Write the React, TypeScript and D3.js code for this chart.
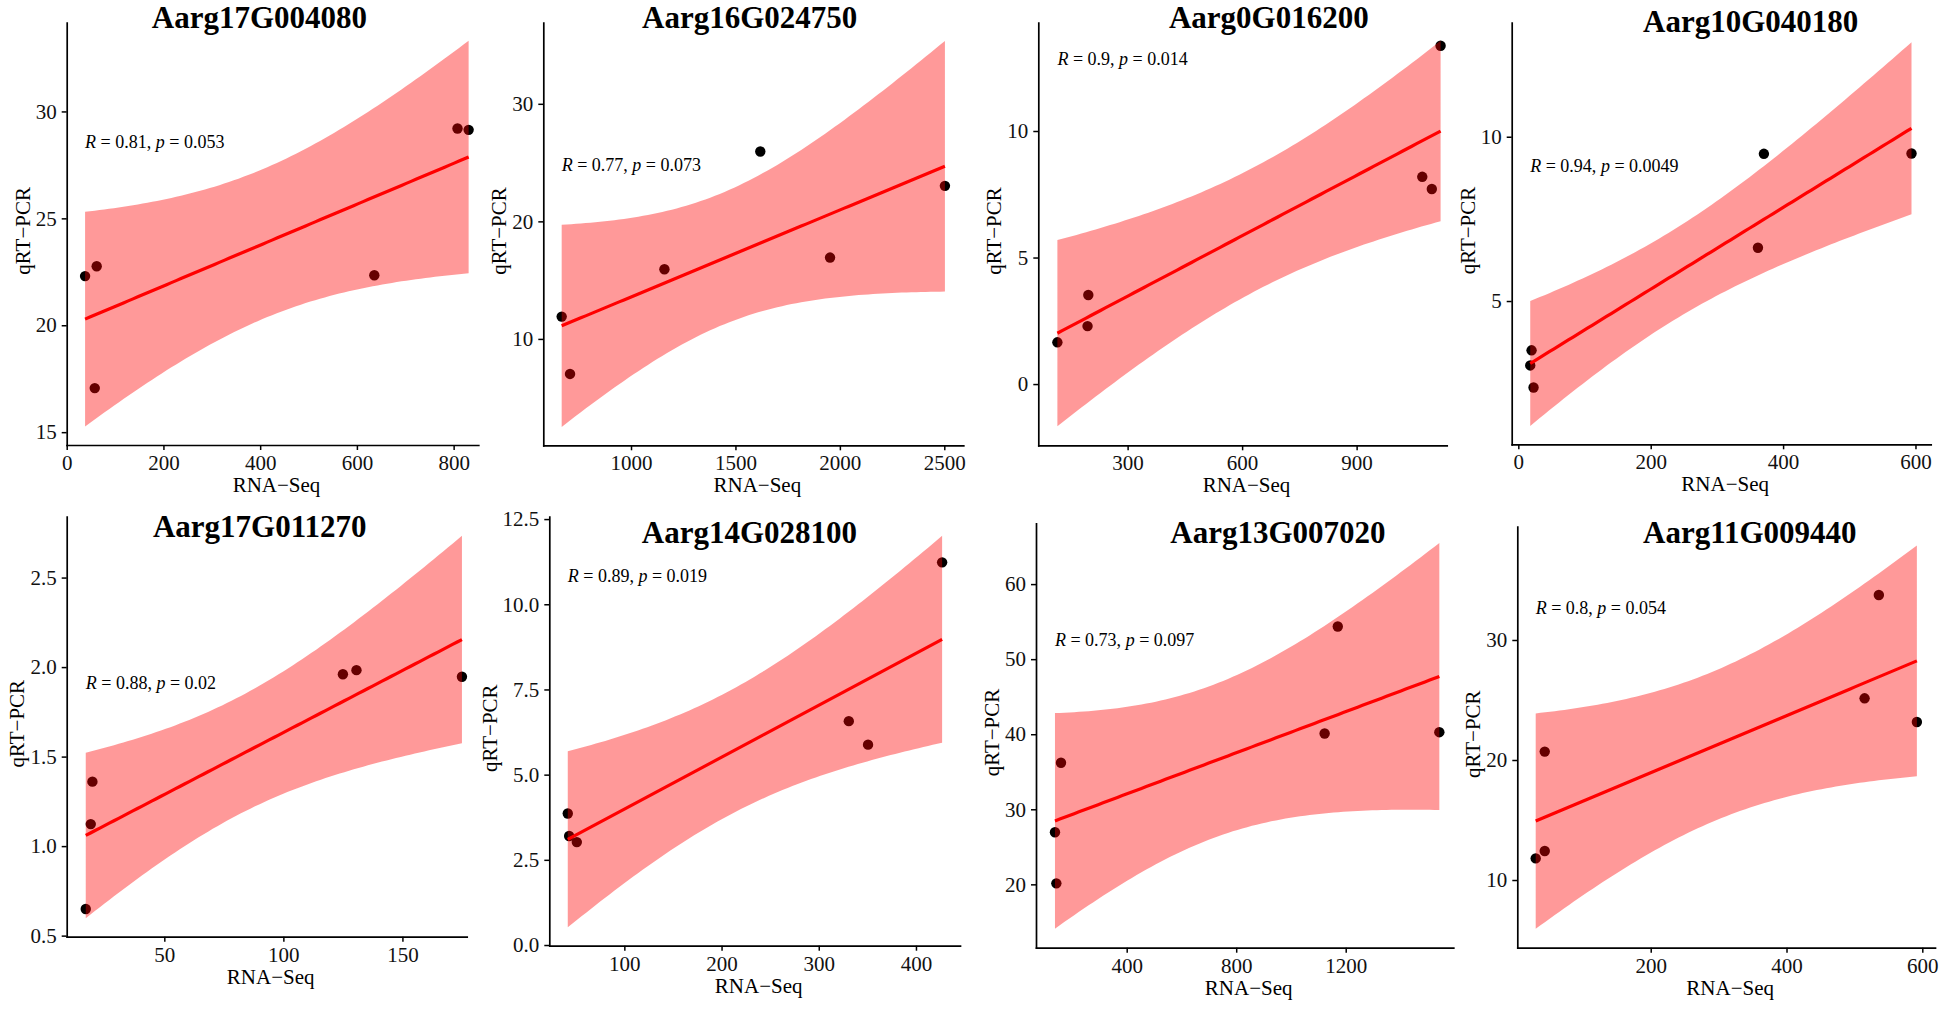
import { useEffect, useRef } from "react"
import * as d3 from "d3"

const W = 1949
const H = 1012

const genes = [
  "Aarg17G004080",
  "Aarg16G024750",
  "Aarg0G016200",
  "Aarg10G040180",
  "Aarg17G011270",
  "Aarg14G028100",
  "Aarg13G007020",
  "Aarg11G009440",
]

// RNA-Seq (x) per gene
const rnaSeq = [
  [38, 62, 58, 636, 808, 831],
  [668, 708, 1160, 1619, 1953, 2503],
  [116, 195, 197, 1072, 1097, 1120],
  [18, 20, 23, 362, 371, 594],
  [17.0, 19.1, 19.8, 125, 130.7, 175],
  [41.8, 43.2, 51.1, 330.9, 350.7, 426.9],
  [138, 143, 160, 1123, 1171, 1542],
  [30.6, 43.9, 43.9, 515, 536, 592],
]

// qRT-PCR (y) per gene
const qrtPcr = [
  [22.3, 22.76, 17.06, 22.34, 29.2, 29.14],
  [11.9, 7.02, 15.93, 25.94, 16.92, 23.02],
  [1.65, 2.29, 3.52, 8.19, 7.71, 13.37],
  [3.04, 3.5, 2.37, 6.62, 9.48, 9.49],
  [0.649, 1.123, 1.36, 1.96, 1.983, 1.946],
  [3.86, 3.2, 3.02, 6.57, 5.88, 11.23],
  [26.94, 20.13, 36.2, 40.1, 54.35, 40.27],
  [11.8, 12.42, 20.7, 25.14, 33.75, 23.17],
]

// correlation labels
const rLabels = ["0.81", "0.77", "0.9", "0.94", "0.88", "0.89", "0.73", "0.8"]
const pLabels = ["0.053", "0.073", "0.014", "0.0049", "0.02", "0.019", "0.097", "0.054"]
const labelY = [28.3, 24.3, 12.6, 8.94, 1.876, 10.66, 51.8, 32.2]

// axis ranges and ticks
const xDomains = [
  [0, 851], [580, 2591], [66, 1136], [-10, 623],
  [9, 177], [22.8, 445.3], [68.7, 1593], [3.5, 618.7],
]
const yDomains = [
  [14.4, 34.15], [0.95, 36.9], [-2.42, 14.28], [0.64, 13.47],
  [0.494, 2.84], [-0.02, 12.57], [11.56, 68.1], [4.36, 39.44],
]
const xTicks = [
  [0, 200, 400, 600, 800], [1000, 1500, 2000, 2500], [300, 600, 900], [0, 200, 400, 600],
  [50, 100, 150], [100, 200, 300, 400], [400, 800, 1200], [200, 400, 600],
]
const yTicks = [
  [15, 20, 25, 30], [10, 20, 30], [0, 5, 10], [5, 10],
  [0.5, 1.0, 1.5, 2.0, 2.5], [0, 2.5, 5, 7.5, 10, 12.5], [20, 30, 40, 50, 60], [10, 20, 30],
]
const yFormats = ["d", "d", "d", "d", ".1f", ".1f", "d", "d"]

// panel boxes in page pixels
const boxes = [
  { l: 66.7, r: 478.3, t: 22.7, b: 445 },
  { l: 543.3, r: 963.3, t: 22.7, b: 445.3 },
  { l: 1038.3, r: 1446.7, t: 22.7, b: 445.3 },
  { l: 1511.7, r: 1930.7, t: 22.7, b: 444.3 },
  { l: 66.7, r: 466.7, t: 516.7, b: 936.7 },
  { l: 549.3, r: 960, t: 516.7, b: 945.7 },
  { l: 1036, r: 1453.3, t: 523.3, b: 947.7 },
  { l: 1517.3, r: 1935, t: 526.7, b: 947.7 },
]
const titlePos = [
  [259.5, 28], [749.7, 28], [1268.8, 28], [1750.7, 31.7],
  [259.7, 536.7], [749.5, 543.3], [1278, 543.3], [1749.8, 543.3],
]

const T975 = 2.776445 // t quantile, 4 df

function fitLm(xs: number[], ys: number[]) {
  const n = xs.length
  const mx = d3.mean(xs) as number
  const my = d3.mean(ys) as number
  const sxx = d3.sum(xs, (x) => (x - mx) ** 2)
  const sxy = d3.sum(xs.map((x, i) => (x - mx) * (ys[i] - my)))
  const slope = sxy / sxx
  const icpt = my - slope * mx
  const sse = d3.sum(xs.map((x, i) => (ys[i] - icpt - slope * x) ** 2))
  const s = Math.sqrt(sse / (n - 2))
  return (x: number) => {
    const fit = icpt + slope * x
    const se = s * Math.sqrt(1 / n + (x - mx) ** 2 / sxx)
    return { fit, lo: fit - T975 * se, hi: fit + T975 * se }
  }
}

export default function App() {
  const svgRef = useRef<SVGSVGElement>(null)

  useEffect(() => {
    document.body.style.margin = "0"
    if (!svgRef.current) return
    const svg = d3.select(svgRef.current)
    svg.selectAll("*").remove()

    genes.forEach((gene, i) => {
      const box = boxes[i]
      const xs = rnaSeq[i]
      const ys = qrtPcr[i]
      const x = d3.scaleLinear().domain(xDomains[i]).range([box.l, box.r])
      const y = d3.scaleLinear().domain(yDomains[i]).range([box.b, box.t])
      const g = svg.append("g")

      // points (under the band, like ggplot)
      g.selectAll("circle")
        .data(xs)
        .enter()
        .append("circle")
        .attr("cx", (d) => x(d))
        .attr("cy", (_, j) => y(ys[j]))
        .attr("r", 5.2)
        .attr("fill", "#000")

      // lm fit + 95% CI
      const pred = fitLm(xs, ys)
      const [x0, x1] = d3.extent(xs) as [number, number]
      const grid = d3.range(81).map((k) => x0 + ((x1 - x0) * k) / 80)
      const rows = grid.map((gx) => ({ gx, ...pred(gx) }))

      g.append("path")
        .datum(rows)
        .attr("fill", "red")
        .attr("fill-opacity", 0.4)
        .attr(
          "d",
          d3
            .area<any>()
            .x((d) => x(d.gx))
            .y0((d) => y(d.lo))
            .y1((d) => y(d.hi))
        )

      g.append("path")
        .datum(rows)
        .attr("fill", "none")
        .attr("stroke", "red")
        .attr("stroke-width", 3.2)
        .attr(
          "d",
          d3
            .line<any>()
            .x((d) => x(d.gx))
            .y((d) => y(d.fit))
        )

      // axes
      const xAxis = g
        .append("g")
        .attr("transform", `translate(0,${box.b})`)
        .call(
          d3.axisBottom(x).tickValues(xTicks[i]).tickSizeInner(5).tickSizeOuter(0).tickPadding(5).tickFormat(d3.format("d") as any)
        )
      const yAxis = g
        .append("g")
        .attr("transform", `translate(${box.l},0)`)
        .call(
          d3.axisLeft(y).tickValues(yTicks[i]).tickSizeInner(5).tickSizeOuter(0).tickPadding(5).tickFormat(d3.format(yFormats[i]) as any)
        )
      for (const ax of [xAxis, yAxis]) {
        ax.selectAll("path").attr("stroke", "#000").attr("stroke-width", 1.7).attr("stroke-linecap", "square")
        ax.selectAll("line").attr("stroke", "#000").attr("stroke-width", 1.5)
        ax.selectAll("text")
          .attr("fill", "#111")
          .style("font-size", "21px")
          .style("font-family", "'Liberation Serif', 'Times New Roman', serif")
      }

      // axis titles
      g.append("text")
        .attr("x", (box.l + box.r) / 2 + 4)
        .attr("y", box.b + 47)
        .attr("text-anchor", "middle")
        .style("font-size", "21px")
        .text("RNA−Seq")

      const bb = (yAxis.node() as SVGGElement).getBBox()
      g.append("text")
        .attr("transform", `translate(${box.l + bb.x - 6},${(box.t + box.b) / 2 - 3}) rotate(-90)`)
        .attr("text-anchor", "middle")
        .style("font-size", "21px")
        .text("qRT−PCR")

      // title
      g.append("text")
        .attr("x", titlePos[i][0])
        .attr("y", titlePos[i][1])
        .attr("text-anchor", "middle")
        .style("font-size", "31px")
        .style("font-weight", "bold")
        .text(gene)

      // R / p label
      const lab = g
        .append("text")
        .attr("x", x(x0))
        .attr("y", y(labelY[i]))
        .style("font-size", "18px")
        .style("white-space", "pre")
      lab.append("tspan").style("font-style", "italic").text("R")
      lab.append("tspan").text(` = ${rLabels[i]}, `)
      lab.append("tspan").style("font-style", "italic").text("p")
      lab.append("tspan").text(` = ${pLabels[i]}`)
    })
  }, [])

  return (
    <svg
      ref={svgRef}
      width={W}
      height={H}
      style={{
        position: "absolute",
        left: 0,
        top: 0,
        display: "block",
        background: "#fff",
        fontFamily: "'Liberation Serif', 'Times New Roman', serif",
      }}
    />
  )
}
